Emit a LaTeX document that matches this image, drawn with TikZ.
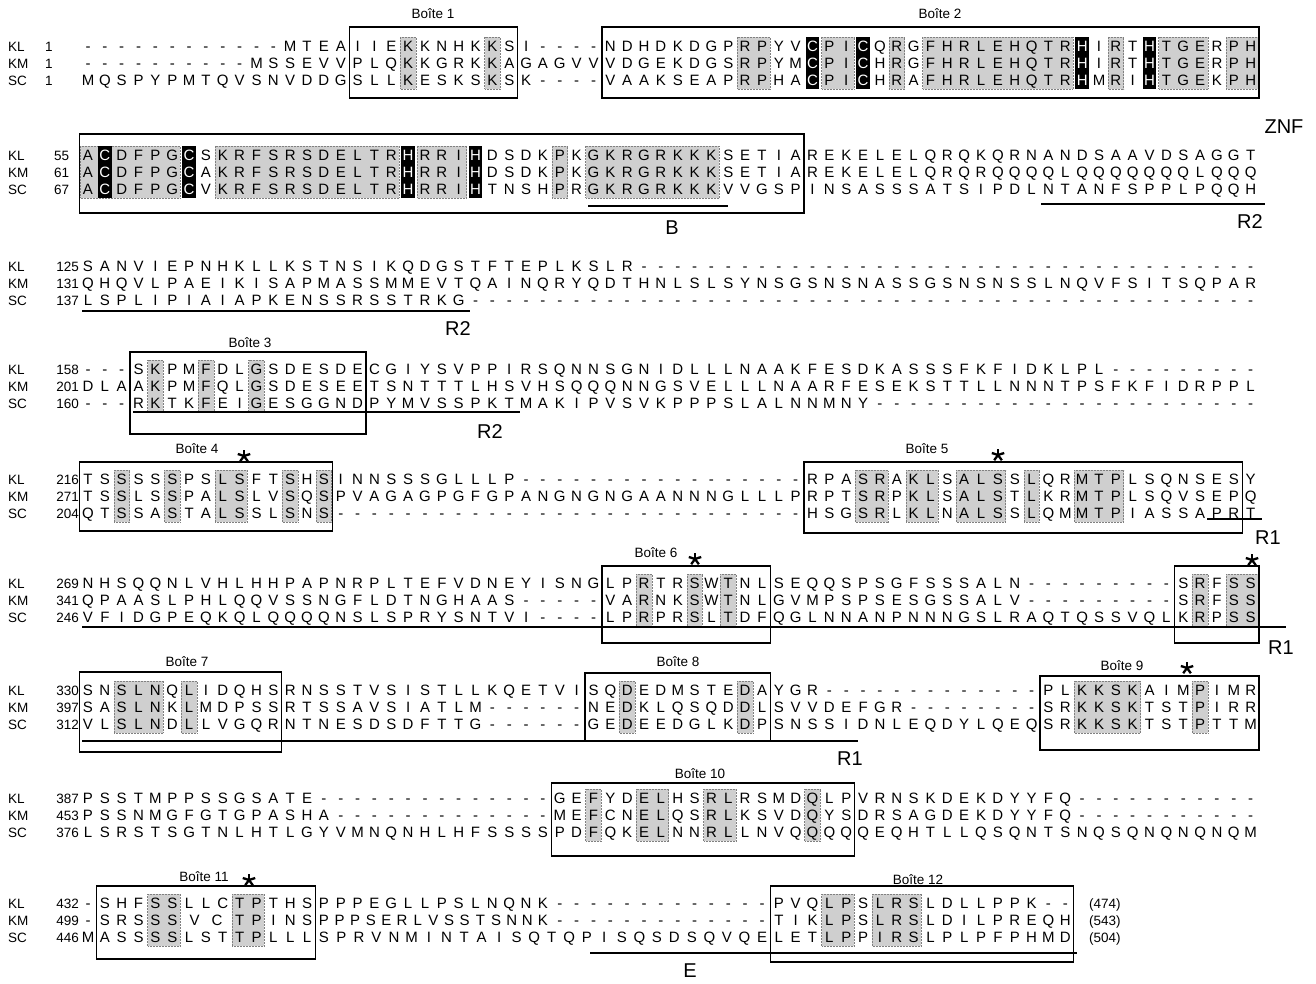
\documentclass[tikz,border=0pt]{standalone}
\usepackage{fontspec}
\setmainfont{Liberation Sans}
\makeatletter
\newcount\seqcolc
\newif\ifwhiteres
\def\wtok{!}
\def\xz{88}
\def\cw{16.85}
% #1 step (in columns), #2 start column, #3 row centre y, #4 residues ("!" makes the next residue white)
\newcommand\seqrowx[4]{%
  \seqcolc=0\relax
  \whiteresfalse
  \@tfor\seqch:=#4\do{%
    \ifx\seqch\wtok
      \whiterestrue
    \else
      \ifwhiteres\def\rescol{white}\else\def\rescol{black}\fi
      \node[res,text=\rescol] at ({\xz+(#2-1+\the\seqcolc*#1)*\cw},{#3+5.5}) {\seqch};%
      \whiteresfalse
      \advance\seqcolc by 1\relax
    \fi}}
\makeatother
\newcommand\seqrow[3]{\seqrowx{1}{#1}{#2}{#3}}
\newcommand\dashrow[3]{\foreach \dc in {#2,...,#3}{\node[res] at ({\xz+(\dc-1)*\cw},{#1+5.5}) {-};}}
\newcommand\hlcol[3]{\path[hl] ({\xz+(#2-1.5)*\cw+0.6},{#1-9}) rectangle ({\xz+(#3-0.5)*\cw-0.6},{#1+43});}
\newcommand\blk[2]{\path[fill=black] ({\xz+(#2-1.5)*\cw+1.5},{#1-9}) rectangle ({\xz+(#2-0.5)*\cw-1.5},{#1+43});}
\newcommand\seqbox[4]{\draw[boxline] ({\xz+(#1-1.5)*\cw},#3) rectangle ({\xz+(#2-0.5)*\cw},#4);}
\newcommand\astk[2]{\foreach \a in {90,18,162,234,306}{\draw[line width=2.3pt] (#1,#2) -- ++(\a:6.5pt);}}
% row label: y, name, number, x of number, anchor
\newcommand\rl[5]{\node[rowlab] at (8,{#1+5.5}) {#2}; \node[rowlab,anchor=#5] at (#4,{#1+5.5}) {#3};}
\begin{document}
\begin{tikzpicture}[x=1pt,y=-1pt,
  res/.style={font=\fontsize{15}{15}\selectfont, inner sep=0pt, anchor=base},
  hl/.style={fill=black!19, draw=black!50, densely dotted, line width=0.5pt},
  boxline/.style={draw=black, line width=1.3pt},
  uline/.style={line width=2.6pt},
  lab/.style={font=\fontsize{13.5}{14}\selectfont, inner sep=0pt},
  big/.style={font=\fontsize{20}{20}\selectfont, inner sep=0pt},
  rowlab/.style={font=\fontsize{13.5}{15}\selectfont, inner sep=0pt, anchor=base west}]
\useasboundingbox[fill=white] (0,0) rectangle (1316,984);

% ---------------- shading ----------------
% block 1
\hlcol{46}{20}{20}\hlcol{46}{25}{25}\hlcol{46}{40}{41}\hlcol{46}{45}{46}\hlcol{46}{49}{49}
\hlcol{46}{51}{59}\hlcol{46}{62}{62}\hlcol{46}{65}{67}\hlcol{46}{69}{70}
% block 2
\hlcol{155}{1}{6}\hlcol{155}{9}{19}\hlcol{155}{21}{23}\hlcol{155}{29}{29}\hlcol{155}{31}{38}
% block 4
\hlcol{369}{5}{5}\hlcol{369}{8}{8}\hlcol{369}{11}{11}
% block 5
\hlcol{479}{3}{3}\hlcol{479}{6}{6}\hlcol{479}{9}{10}\hlcol{479}{13}{13}\hlcol{479}{15}{15}
\hlcol{479}{47}{48}\hlcol{479}{50}{51}\hlcol{479}{53}{55}\hlcol{479}{57}{57}\hlcol{479}{60}{62}
% block 6
\hlcol{583}{34}{34}\hlcol{583}{37}{37}\hlcol{583}{39}{39}\hlcol{583}{67}{67}\hlcol{583}{69}{70}
% block 7
\hlcol{690}{3}{5}\hlcol{690}{7}{7}\hlcol{690}{33}{33}\hlcol{690}{40}{40}\hlcol{690}{60}{63}\hlcol{690}{67}{67}
% block 8
\hlcol{798}{31}{31}\hlcol{798}{34}{35}\hlcol{798}{38}{39}\hlcol{798}{44}{44}
% block 9
\hlcol{903}{5}{6}\hlcol{903}{10}{11}\hlcol{903}{45}{46}\hlcol{903}{48}{50}

% ---------------- black columns ----------------
\blk{46}{44}\blk{46}{47}\blk{46}{60}\blk{46}{64}
\blk{155}{2}\blk{155}{7}\blk{155}{20}\blk{155}{24}

% ---------------- sequences ----------------
% block 1
\rl{46}{KL}{1}{45}{base west}\rl{63}{KM}{1}{45}{base west}\rl{80}{SC}{1}{45}{base west}
\dashrow{46}{1}{12}\seqrow{13}{46}{MTEAIIEKKNHKKSI}\dashrow{46}{28}{31}\seqrow{32}{46}{NDHDKDGPRPYV!CPI!CQRGFHRLEHQTR!HIRT!HTGERPH}
\dashrow{63}{1}{10}\seqrow{11}{63}{MSSEVVPLQKKGRKKAGAGVVVDGEKDGSRPYM!CPI!CHRGFHRLEHQTR!HIRT!HTGERPH}
\seqrow{1}{80}{MQSPYPMTQVSNVDDGSLLKESKSKSK}\dashrow{80}{28}{31}\seqrow{32}{80}{VAAKSEAPRPHA!CPI!CHRAFHRLEHQTR!HMRI!HTGEKPH}
% block 2
\rl{155}{KL}{55}{54}{base west}\rl{172}{KM}{61}{54}{base west}\rl{189}{SC}{67}{54}{base west}
\seqrow{1}{155}{A!CDFPG!CSKRFSRSDELTR!HRRI!HDSDKPKGKRGRKKKSETIAREKELELQRQKQRNANDSAAVDSAGGT}
\seqrow{1}{172}{A!CDFPG!CAKRFSRSDELTR!HRRI!HDSDKPKGKRGRKKKSETIAREKELELQRQRQQQQLQQQQQQQLQQQ}
\seqrow{1}{189}{A!CDFPG!CVKRFSRSDELTR!HRRI!HTNSHPRGKRGRKKKVVGSPINSASSSATSIPDLNTANFSPPLPQQH}
% block 3
\rl{266}{KL}{125}{79}{base east}\rl{283}{KM}{131}{79}{base east}\rl{300}{SC}{137}{79}{base east}
\seqrow{1}{266}{SANVIEPNHKLLKSTNSIKQDGSTFTEPLKSLR}\dashrow{266}{34}{70}
\seqrow{1}{283}{QHQVLPAEIKISAPMASSMMEVTQAINQRYQDTHNLSLSYNSGSNSNASSGSNSNSSLNQVFSITSQPAR}
\seqrow{1}{300}{LSPLIPIAIAPKENSSRSSTRKG}\dashrow{300}{24}{70}
% block 4
\rl{369}{KL}{158}{79}{base east}\rl{386}{KM}{201}{79}{base east}\rl{403}{SC}{160}{79}{base east}
\dashrow{369}{1}{3}\seqrow{4}{369}{SKPMFDLGSDESDECGIYSVPPIRSQNNSGNIDLLLNAAKFESDKASSSFKFIDKLPL}\dashrow{369}{62}{70}
\seqrow{1}{386}{DLAAKPMFQLGSDESEETSNTTTLHSVHSQQQNNGSVELLLNAARFESEKSTTLLNNNTPSFKFIDRPPL}
\dashrow{403}{1}{3}\seqrow{4}{403}{RKTKFEIGESGGNDPYMVSSPKTMAKIPVSVKPPPSLALNNMNY}\dashrow{403}{48}{70}
% block 5
\rl{479}{KL}{216}{79}{base east}\rl{496}{KM}{271}{79}{base east}\rl{513}{SC}{204}{79}{base east}
\seqrow{1}{479}{TSSSSSPSLSFTSHSINNSSSGLLLP}\dashrow{479}{27}{43}\seqrow{44}{479}{RPASRAKLSALSSLQRMTPLSQNSESY}
\seqrow{1}{496}{TSSLSSPALSLVSQSPVAGAGPGFGPANGNGNGAANNNGLLLPRPTSRPKLSALSTLKRMTPLSQVSEPQ}
\seqrow{1}{513}{QTSSASTALSSLSNS}\dashrow{513}{16}{43}\seqrow{44}{513}{HSGSRLKLNALSSLQMMTPIASSAPRT}
% block 6
\rl{583}{KL}{269}{79}{base east}\rl{600}{KM}{341}{79}{base east}\rl{617}{SC}{246}{79}{base east}
\seqrow{1}{583}{NHSQQNLVHLHHPAPNRPLTEFVDNEYISNGLPRTRSWTNLSEQQSPSGFSSSALN}\dashrow{583}{57}{65}\seqrow{66}{583}{SRFSS}
\seqrow{1}{600}{QPAASLPHLQQVSSNGFLDTNGHAAS}\dashrow{600}{27}{31}\seqrow{32}{600}{VARNKSWTNLGVMPSPSESGSSALV}\dashrow{600}{57}{65}\seqrow{66}{600}{SRFSS}
\seqrow{1}{617}{VFIDGPEQKQLQQQQNSLSPRYSNTVI}\dashrow{617}{28}{31}\seqrow{32}{617}{LPRPRSLTDFQGLNNANPNNNGSLRAQTQSSVQLKRPSS}
% block 7
\rl{690}{KL}{330}{79}{base east}\rl{707}{KM}{397}{79}{base east}\rl{724}{SC}{312}{79}{base east}
\seqrow{1}{690}{SNSLNQLIDQHSRNSSTVSISTLLKQETVISQDEDMSTEDAYGR}\dashrow{690}{45}{57}\seqrow{58}{690}{PLKKSKAIMPIMR}
\seqrow{1}{707}{SASLNKLMDPSSRTSSAVSIATLM}\dashrow{707}{25}{30}\seqrow{31}{707}{NEDKLQSQDDLSVVDEFGR}\dashrow{707}{50}{57}\seqrow{58}{707}{SRKKSKTSTPIRR}
\seqrow{1}{724}{VLSLNDLLVGQRNTNESDSDFTTG}\dashrow{724}{25}{30}\seqrow{31}{724}{GEDEEDGLKDPSNSSIDNLEQDYLQEQSRKKSKTSTPTTM}
% block 8
\rl{798}{KL}{387}{79}{base east}\rl{815}{KM}{453}{79}{base east}\rl{832}{SC}{376}{79}{base east}
\seqrow{1}{798}{PSSTMPPSSGSATE}\dashrow{798}{15}{28}\seqrow{29}{798}{GEFYDELHSRLRSMDQLPVRNSKDEKDYYFQ}\dashrow{798}{60}{70}
\seqrow{1}{815}{PSSNMGFGTGPASHA}\dashrow{815}{16}{28}\seqrow{29}{815}{MEFCNELQSRLKSVDQYSDRSAGDEKDYYFQ}\dashrow{815}{60}{70}
\seqrow{1}{832}{LSRSTSGTNLHTLGYVMNQNHLHFSSSSPDFQKELNNRLLNVQQQQQEQHTLLQSQNTSNQSQNQNQNQM}
% block 9
\rl{903}{KL}{432}{79}{base east}\rl{920}{KM}{499}{79}{base east}\rl{937}{SC}{446}{79}{base east}
\dashrow{903}{1}{1}\seqrow{2}{903}{SHFSSLLCTPTHSPPPEGLLPSLNQNK}\dashrow{903}{29}{41}\seqrow{42}{903}{PVQLPSLRSLDLLPPK}\dashrow{903}{58}{59}
\dashrow{920}{1}{1}\seqrow{2}{920}{SRSSS}\seqrowx{1.33}{7.33}{920}{VC}\seqrow{10}{920}{TPINS}\seqrowx{0.9286}{15}{920}{PPPSERLVSSTSNNK}\dashrow{920}{29}{41}\seqrow{42}{920}{TIKLPSLRSLDILPREQH}
\seqrow{1}{937}{MASSSSLSTTPLLL}\seqrowx{1.04}{15}{937}{SPRVNMINTAISQTQPISQSDSQVQE}\seqrow{42}{937}{LETLPPIRSLPLPFPHMD}
\node[rowlab] (n474) at (1089,908.5) {(474)};
\node[rowlab] (n543) at (1089,925.5) {(543)};
\node[rowlab] (n504) at (1089,942.5) {(504)};

% ---------------- boxes ----------------
\seqbox{17}{26}{27}{98}\seqbox{32}{70}{27}{98}
\seqbox{1}{43}{134}{213}
\seqbox{4}{17}{352}{434}
\seqbox{1}{15}{462}{531}\seqbox{44}{69}{462}{533}
\seqbox{32}{41}{566}{643}\seqbox{66}{70}{566}{643}
\seqbox{1}{12}{672}{752}\seqbox{31}{41}{673}{741}\seqbox{58}{70}{676}{750}
\seqbox{29}{46}{783}{856}
\seqbox{2}{14}{886}{959}\seqbox{42}{59}{886}{962}

% ---------------- box labels ----------------
\node[lab] (b1) at (433,14) {Boîte 1};
\node[lab] (b2) at (940,14) {Boîte 2};
\node[lab] (b3) at (250,343) {Boîte 3};
\node[lab] (b4) at (197,449) {Boîte 4};
\node[lab] (b5) at (927,449) {Boîte 5};
\node[lab] (b6) at (656,553) {Boîte 6};
\node[lab] (b7) at (187,662) {Boîte 7};
\node[lab] (b8) at (678,662) {Boîte 8};
\node[lab] (b9) at (1122,666) {Boîte 9};
\node[lab] (b10) at (700,774) {Boîte 10};
\node[lab] (b11) at (204,877) {Boîte 11};
\node[lab] (b12) at (918,880) {Boîte 12};

% ---------------- asterisks ----------------
\astk{244}{456}\astk{998}{455}\astk{695}{559}\astk{1252}{560}\astk{1187}{668}\astk{249}{880}

% ---------------- underlines and region labels ----------------
\draw[uline] (588,206) -- (728,206);
\node[big] (lB) at (672,228) {B};
\draw[uline] (1041,204) -- (1265,204);
\node[big] (lR2a) at (1250,222) {R2};
\node[big] (lZNF) at (1284,127) {ZNF};
\draw[uline] (82,311) -- (470,311);
\node[big] (lR2b) at (458,329) {R2};
\draw[uline] (133,412) -- (520,412);
\node[big] (lR2c) at (490,432) {R2};
\draw[uline] (1207,519) -- (1262,519);
\node[big] (lR1a) at (1268,538) {R1};
\draw[uline] (82,627) -- (1286,627);
\node[big] (lR1b) at (1281,648) {R1};
\draw[uline] (82,741) -- (858,741);
\node[big] (lR1c) at (850,759) {R1};
\draw[uline] (590,953) -- (1077,953);
\node[big] (lE) at (690,971) {E};
\end{tikzpicture}
\end{document}
